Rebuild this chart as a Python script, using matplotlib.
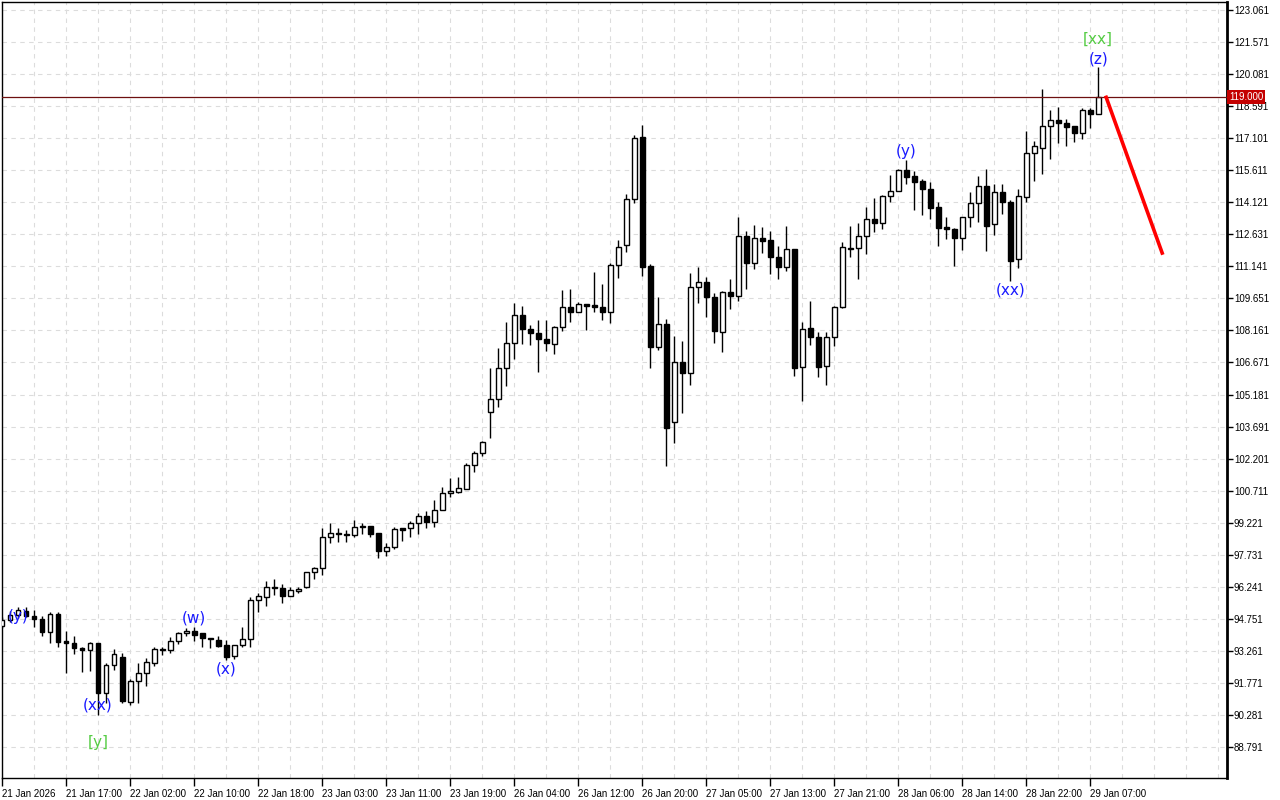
import matplotlib.pyplot as plt
from matplotlib.ticker import FixedLocator, MultipleLocator
import numpy as np

# H1 candles (one per bar, left to right)
opens = [94.40, 94.70, 94.91, 95.10, 94.88, 94.74, 94.15, 94.97, 93.72, 93.64,
         93.40, 93.30, 93.61, 91.28, 92.60, 92.96, 90.90, 91.87, 92.22, 92.71,
         93.35, 93.29, 93.73, 94.08, 94.20, 94.08, 93.87, 93.77, 93.54, 93.02,
         93.52, 93.80, 95.63, 95.78, 96.24, 96.17, 95.83, 96.06, 96.24, 96.91,
         97.10, 98.54, 98.73, 98.70, 98.65, 99.03, 99.06, 98.73, 97.92, 98.07,
         98.96, 98.96, 99.19, 99.54, 99.24, 99.81, 100.59, 100.66, 100.80, 101.89,
         102.45, 104.35, 104.96, 106.40, 107.56, 108.88, 108.21, 108.05, 107.75, 107.53,
         108.31, 109.24, 109.01, 109.37, 109.33, 109.26, 109.00, 111.19, 112.12, 114.26,
         117.14, 111.16, 107.40, 108.44, 103.89, 106.68, 106.17, 110.17, 110.40, 109.70,
         108.10, 109.93, 109.77, 112.55, 111.28, 112.44, 112.37, 111.56, 111.10, 111.93,
         106.45, 108.26, 107.84, 106.52, 107.84, 109.24, 112.00, 111.98, 112.55, 113.33,
         113.14, 114.41, 114.66, 115.62, 115.34, 115.11, 114.72, 113.89, 112.96, 112.86,
         112.44, 113.42, 114.07, 114.88, 113.09, 114.58, 114.15, 111.47, 114.35, 116.40,
         116.63, 117.68, 117.94, 117.79, 117.67, 117.33, 118.41, 118.21]
highs = [94.85, 95.11, 95.30, 95.30, 95.14, 94.88, 95.08, 95.08, 94.19, 93.94,
         93.45, 93.66, 93.64, 92.71, 93.33, 93.17, 91.94, 92.71, 92.91, 93.43,
         93.43, 93.92, 94.15, 94.32, 94.38, 94.08, 93.87, 93.96, 93.77, 93.54,
         94.38, 95.78, 95.96, 96.52, 96.59, 96.37, 96.22, 96.22, 96.91, 97.17,
         98.96, 99.19, 98.96, 98.88, 99.35, 99.19, 99.06, 98.73, 98.29, 99.00,
         98.96, 99.31, 99.68, 99.76, 100.27, 100.87, 101.28, 101.33, 101.98, 102.55,
         103.02, 106.40, 107.33, 108.54, 109.42, 109.30, 108.41, 108.64, 108.64, 108.37,
         110.04, 110.09, 109.47, 109.37, 110.86, 110.32, 111.31, 112.37, 114.51, 117.25,
         117.71, 111.24, 109.70, 108.68, 107.90, 107.68, 110.82, 111.12, 110.63, 109.89,
         110.01, 110.55, 113.45, 112.78, 113.06, 112.98, 112.78, 112.09, 113.02, 111.93,
         108.57, 109.54, 108.10, 108.10, 109.30, 112.29, 113.02, 113.17, 113.91, 114.31,
         114.46, 115.39, 115.65, 116.09, 115.59, 115.19, 115.05, 114.15, 113.45, 112.91,
         113.45, 114.58, 115.34, 115.67, 114.97, 114.97, 114.23, 114.72, 117.45, 116.98,
         119.39, 118.41, 118.54, 117.98, 117.67, 118.49, 118.49, 120.42]
lows = [94.30, 94.60, 94.79, 94.82, 94.39, 93.97, 93.64, 93.45, 92.25, 93.10,
        92.30, 92.34, 90.28, 90.82, 92.37, 90.82, 90.74, 90.85, 91.63, 92.56,
        93.06, 93.15, 93.58, 93.97, 93.73, 93.45, 93.38, 93.45, 92.84, 92.87,
        93.45, 93.43, 95.08, 95.35, 95.86, 95.47, 95.80, 95.97, 96.17, 96.60,
        96.79, 98.29, 98.34, 98.34, 98.57, 98.68, 98.57, 97.56, 97.68, 97.98,
        98.38, 98.57, 98.68, 98.96, 99.04, 99.81, 100.40, 100.61, 100.77, 101.59,
        102.34, 103.17, 104.59, 105.59, 106.83, 107.53, 107.49, 106.24, 107.22, 107.05,
        108.15, 108.54, 109.00, 108.18, 109.00, 108.64, 108.49, 110.58, 111.82, 114.07,
        110.70, 106.43, 107.25, 101.87, 102.91, 104.31, 105.62, 109.42, 108.80, 107.56,
        107.17, 109.16, 109.54, 110.09, 111.02, 111.75, 110.79, 110.55, 110.94, 106.06,
        104.89, 107.47, 106.01, 105.62, 107.44, 109.19, 111.59, 110.55, 111.70, 112.75,
        112.88, 114.15, 114.66, 114.97, 113.76, 113.53, 113.34, 112.10, 112.41, 111.17,
        111.90, 112.98, 113.22, 111.87, 112.60, 113.56, 110.47, 111.05, 114.12, 115.12,
        115.42, 116.12, 116.86, 116.75, 116.94, 117.06, 117.59, 118.21]
closes = [94.70, 94.93, 95.14, 94.86, 94.74, 94.15, 94.97, 93.68, 93.61, 93.38,
          93.30, 93.61, 91.31, 92.60, 93.10, 90.94, 91.87, 92.22, 92.76, 93.33,
          93.29, 93.73, 94.08, 94.20, 94.00, 93.85, 93.80, 93.50, 92.99, 93.54,
          93.80, 95.63, 95.81, 96.24, 96.17, 95.83, 96.09, 96.13, 96.91, 97.10,
          98.54, 98.73, 98.68, 98.65, 99.00, 99.06, 98.68, 97.92, 98.10, 98.91,
          98.88, 99.19, 99.54, 99.24, 99.81, 100.59, 100.69, 100.82, 101.90, 102.45,
          102.96, 104.96, 106.40, 107.56, 108.88, 108.21, 108.03, 107.75, 107.56, 108.31,
          109.24, 109.01, 109.37, 109.31, 109.24, 109.00, 111.19, 112.05, 114.26, 117.10,
          111.12, 107.40, 108.44, 103.61, 106.68, 106.17, 110.17, 110.40, 109.70, 108.15,
          109.93, 109.77, 112.55, 111.28, 112.44, 112.33, 111.59, 111.10, 111.93, 106.40,
          108.21, 107.84, 106.48, 107.84, 109.24, 112.03, 111.97, 112.55, 113.33, 113.14,
          114.41, 114.66, 115.62, 115.31, 115.08, 114.72, 113.87, 112.94, 112.86, 112.44,
          113.42, 114.07, 114.88, 113.03, 114.58, 114.12, 111.40, 114.41, 116.40, 116.75,
          117.68, 117.94, 117.79, 117.63, 117.33, 118.41, 118.21, 119.00]

time_labels = ["21 Jan 2026", "21 Jan 17:00", "22 Jan 02:00", "22 Jan 10:00",
               "22 Jan 18:00", "23 Jan 03:00", "23 Jan 11:00", "23 Jan 19:00",
               "26 Jan 04:00", "26 Jan 12:00", "26 Jan 20:00", "27 Jan 05:00",
               "27 Jan 13:00", "27 Jan 21:00", "28 Jan 06:00", "28 Jan 14:00",
               "28 Jan 22:00", "29 Jan 07:00"]
price_ticks = [123.061, 121.571, 120.081, 118.591, 117.101, 115.611, 114.121,
               112.631, 111.141, 109.651, 108.161, 106.671, 105.181, 103.691,
               102.201, 100.711, 99.221, 97.731, 96.241, 94.751, 93.261, 91.771,
               90.281, 88.791]

# wave labels: (bar index, price, text, colour)
wave_labels = [(2, 94.84, "(y)", "blue"), (12, 90.74, "(xx)", "blue"),
               (12, 88.98, "[y]", "green"), (24, 94.79, "(w)", "blue"),
               (28, 92.42, "(x)", "blue"), (113, 116.46, "(y)", "blue"),
               (126, 110.04, "(xx)", "blue"), (137, 120.78, "(z)", "blue"),
               (137, 121.71, "[xx]", "green")]
forecast_x = [138, 145]
forecast_y = [119.00, 111.76]
last_price = 119.000

BLUE = "#1a1aff"
GREEN = "#55cc44"
tick_font = "Liberation Sans"

fig = plt.figure(figsize=(12.8, 8), dpi=100)
ax = fig.add_axes([2 / 1280, 22 / 800, 1225 / 1280, 776 / 800])

xs = np.arange(len(opens))
o = np.array(opens)
c = np.array(closes)
ax.vlines(xs, lows, highs, color="black", lw=1.0, zorder=2)
up = c >= o
body = np.maximum(np.abs(c - o), 0.03)
ax.bar(xs[up], body[up], bottom=o[up], width=0.62, facecolor="white",
       edgecolor="black", lw=1.0, zorder=3)
ax.bar(xs[~up], body[~up], bottom=c[~up], width=0.62, facecolor="black",
       edgecolor="black", lw=1.0, zorder=3)

for k, p, txt, col in wave_labels:
    ax.text(k, p, txt, color=BLUE if col == "blue" else GREEN, fontsize=11,
            ha="center", va="center", zorder=5)

ax.axhline(last_price, color="#6e1010", lw=0.9, zorder=4)
ax.plot(forecast_x, forecast_y, color="red", lw=2.6, zorder=4)
ax.text(1.0015, last_price, f"{last_price:.3f}", transform=ax.get_yaxis_transform(),
        color="white", fontsize=7, family=tick_font, ha="left", va="center",
        bbox=dict(facecolor="#c40000", edgecolor="none", pad=1.5), zorder=6,
        clip_on=False)

ax.set_xlim(0, 153.1)
ax.set_ylim(87.348, 123.433)

ax.xaxis.set_major_locator(FixedLocator(np.arange(0, len(time_labels) * 8, 8)))
ax.xaxis.set_minor_locator(MultipleLocator(4))
ax.set_xticklabels(time_labels, ha="left", fontsize=7, family=tick_font)
ax.tick_params(axis="x", which="major", direction="out", length=6, width=1, pad=2)
ax.tick_params(axis="x", which="minor", length=0)

ax.yaxis.tick_right()
ax.set_yticks(price_ticks)
ax.set_yticklabels([f"{v:.3f}" for v in price_ticks], fontsize=7, family=tick_font)
ax.tick_params(axis="y", direction="out", length=4, width=1, pad=1)

ax.grid(axis="x", which="both", color="#dcdcdc", ls=(0, (4, 4)), lw=0.8)
ax.grid(axis="y", which="major", color="#dcdcdc", ls=(0, (4, 4)), lw=0.8)
ax.set_axisbelow(True)

for side in ["top", "left", "bottom"]:
    ax.spines[side].set_linewidth(1.0)
ax.spines["right"].set_linewidth(2.0)

fig.savefig("out.png", dpi=100)
